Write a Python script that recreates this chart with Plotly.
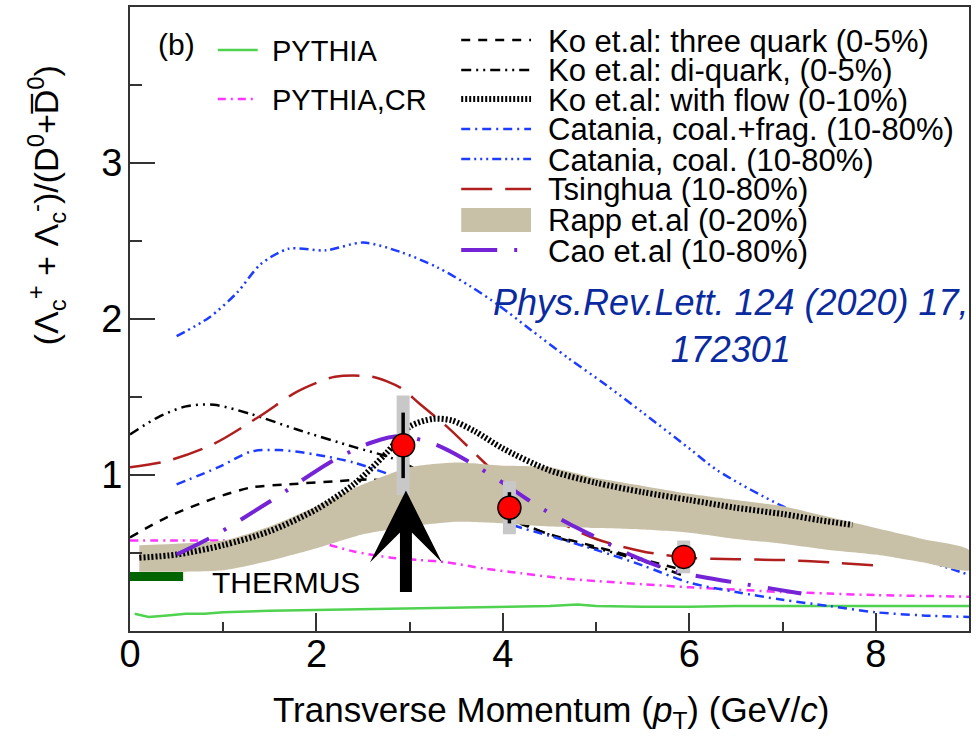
import plotly.graph_objects as go

# ---------------- data ----------------
pythia_x = [0.05, 0.2, 0.4, 0.6, 0.8, 1.0, 1.5, 2.0, 2.5, 3.0, 3.5, 4.0, 4.5, 4.8, 5.0, 5.5, 6.0, 6.5, 7.0, 7.5, 8.0, 8.5, 9.0]
pythia_y = [0.11, 0.09, 0.10, 0.11, 0.11, 0.12, 0.13, 0.135, 0.14, 0.145, 0.15, 0.155, 0.16, 0.17, 0.16, 0.155, 0.155, 0.16, 0.16, 0.16, 0.16, 0.16, 0.16]

pythia_cr_x = [0, 0.5, 1.0, 1.5, 2.0, 2.4, 2.8, 3.1, 3.4, 3.8, 4.2, 4.6, 5.0, 5.5, 6.0, 6.5, 7.0, 7.5, 8.0, 8.5, 9.0]
pythia_cr_y = [0.58, 0.58, 0.58, 0.58, 0.57, 0.51, 0.47, 0.455, 0.44, 0.40, 0.37, 0.34, 0.32, 0.30, 0.28, 0.265, 0.25, 0.24, 0.23, 0.225, 0.22]

ko3_x = [0, 0.4, 0.9, 1.3, 1.7, 2.2, 2.6, 3.0, 3.5, 4.0, 4.5, 5.0, 5.5, 6.0]
ko3_y = [0.60, 0.73, 0.85, 0.92, 0.94, 0.96, 0.97, 0.94, 0.85, 0.73, 0.62, 0.54, 0.46, 0.38]

kodi_x = [0, 0.3, 0.6, 0.9, 1.3, 1.8, 2.4, 2.8, 3.2, 3.6, 4.0, 4.4, 4.8, 5.2, 5.6, 5.95]
kodi_y = [1.26, 1.37, 1.44, 1.45, 1.39, 1.29, 1.18, 1.11, 1.00, 0.88, 0.76, 0.64, 0.56, 0.50, 0.43, 0.35]

koflow_x = [0.1, 0.5, 1.0, 1.5, 2.0, 2.4, 2.75, 3.0, 3.25, 3.45, 3.7, 4.0, 4.5, 5.0, 5.5, 6.0, 6.5, 7.0, 7.4, 7.75]
koflow_y = [0.47, 0.49, 0.55, 0.64, 0.78, 0.94, 1.14, 1.31, 1.36, 1.35, 1.28, 1.17, 1.03, 0.95, 0.89, 0.84, 0.79, 0.75, 0.71, 0.68]

catfrag_x = [0.5, 0.95, 1.3, 1.6, 2.0, 2.4, 2.8, 3.2, 3.6, 4.1, 4.5, 5.0, 5.5, 6.0, 6.5, 7.0, 7.5, 8.0, 8.5, 9.0]
catfrag_y = [0.94, 1.05, 1.15, 1.16, 1.13, 1.08, 1.00, 0.91, 0.80, 0.68, 0.61, 0.52, 0.42, 0.31, 0.25, 0.20, 0.16, 0.12, 0.10, 0.09]

catcoal_x = [0.5, 0.85, 1.15, 1.4, 1.7, 2.1, 2.5, 2.9, 3.3, 3.65, 3.95, 4.3, 4.7, 5.1, 5.5, 6.0, 6.3, 7.0, 7.5, 8.0, 8.5, 9.0]
catcoal_y = [1.89, 2.01, 2.17, 2.35, 2.45, 2.44, 2.49, 2.43, 2.33, 2.21, 2.09, 1.93, 1.75, 1.58, 1.40, 1.17, 1.03, 0.80, 0.68, 0.56, 0.46, 0.36]

tsing_x = [0.0, 0.4, 0.9, 1.4, 1.75, 2.0, 2.2, 2.6, 2.9, 3.1, 3.4, 3.8, 4.2, 4.6, 5.0, 5.5, 6.0, 6.5, 7.0, 7.5, 8.0]
tsing_y = [1.05, 1.09, 1.20, 1.38, 1.52, 1.59, 1.63, 1.63, 1.56, 1.46, 1.31, 1.08, 0.85, 0.70, 0.59, 0.51, 0.47, 0.46, 0.455, 0.44, 0.42]

rapp_x = [0.1, 0.5, 1.0, 1.5, 2.0, 2.5, 3.0, 3.5, 4.0, 4.5, 5.0, 5.5, 6.0, 6.5, 7.0, 7.5, 8.0, 8.5, 9.0]
rapp_hi = [0.55, 0.56, 0.58, 0.67, 0.80, 0.94, 1.05, 1.08, 1.06, 1.05, 0.98, 0.93, 0.88, 0.84, 0.80, 0.73, 0.66, 0.59, 0.52]
rapp_lo = [0.38, 0.38, 0.39, 0.45, 0.53, 0.62, 0.67, 0.70, 0.69, 0.67, 0.66, 0.65, 0.63, 0.59, 0.56, 0.52, 0.49, 0.44, 0.39]

cao_x = [0.5, 0.9, 1.5, 2.2, 2.6, 2.9, 3.3, 3.65, 4.0, 4.35, 4.7, 5.0, 5.4, 5.8, 6.2, 6.5, 6.9, 7.2]
cao_y = [0.49, 0.61, 0.83, 1.10, 1.21, 1.25, 1.19, 1.08, 0.95, 0.81, 0.69, 0.60, 0.48, 0.39, 0.34, 0.31, 0.27, 0.24]

thermus_x = [0.0, 0.57]
thermus_y = [0.35, 0.35]

data_x = [2.93, 4.07, 5.94]
data_y = [1.19, 0.79, 0.475]
data_stat = [0.21, 0.10, 0.07]
data_sys = [0.32, 0.17, 0.105]

arrow_x = 2.96
arrow_from = 0.24
arrow_to = 0.90

x_ticks = [0, 2, 4, 6, 8]
y_ticks = [1, 2, 3]

legend_left = ["PYTHIA", "PYTHIA,CR"]
legend_right = ["Ko et.al: three quark (0-5%)", "Ko et.al: di-quark, (0-5%)", "Ko et.al: with flow (0-10%)",
                "Catania, coal.+frag. (10-80%)", "Catania, coal. (10-80%)", "Tsinghua (10-80%)",
                "Rapp et.al (0-20%)", "Cao et.al (10-80%)"]

# ---------------- styles ----------------
FONT = "Liberation Sans, Arial, Helvetica, sans-serif"
W, H = 976, 739
L, R, T, B = 130, 5, 7, 108
PW, PH = W - L - R, H - T - B


def px(xp):
    return (xp - L) / PW


def py(yp):
    return (H - B - yp) / PH


st = {
    "pythia": dict(color="#4fd24f", width=2.5, dash="solid"),
    "cr": dict(color="#ff33ff", width=2.5, dash="8px,5px,2px,5px"),
    "ko3": dict(color="black", width=2.5, dash="9px,8px"),
    "kodi": dict(color="black", width=2.5, dash="10px,5px,2px,5px,2px,5px"),
    "flow": dict(color="black", width=6, dash="2px,2px"),
    "catfrag": dict(color="#1e3cff", width=2.5, dash="9px,5px,2px,5px"),
    "catcoal": dict(color="#1e3cff", width=2.5, dash="9px,4px,2px,4px,2px,4px,2px,4px"),
    "tsing": dict(color="#b01e1e", width=2.5, dash="31px,13px"),
    "cao": dict(color="#7424d6", width=4, dash="36px,17px,3px,17px"),
}
RAPP_COLOR = "#c9c1a7"

fig = go.Figure()


def line(x, y, key, shape="spline"):
    kw = {"smoothing": 0.8} if shape == "spline" else {}
    fig.add_trace(go.Scatter(x=x, y=y, mode="lines", line=dict(**st[key], shape=shape, **kw),
                             showlegend=False, hoverinfo="skip"))


line(pythia_x, pythia_y, "pythia", shape="linear")
line(pythia_cr_x, pythia_cr_y, "cr")
line(ko3_x, ko3_y, "ko3")
line(kodi_x, kodi_y, "kodi")
line(catfrag_x, catfrag_y, "catfrag")
line(catcoal_x, catcoal_y, "catcoal")
line(tsing_x, tsing_y, "tsing")

fig.add_trace(go.Scatter(x=rapp_x + rapp_x[::-1], y=rapp_hi + rapp_lo[::-1], mode="lines",
                         fill="toself", fillcolor=RAPP_COLOR,
                         line=dict(width=0, color=RAPP_COLOR, shape="spline", smoothing=0.6),
                         showlegend=False, hoverinfo="skip"))

line(koflow_x, koflow_y, "flow")
line(cao_x, cao_y, "cao")

fig.add_trace(go.Scatter(x=thermus_x, y=thermus_y, mode="lines", line=dict(color="#006400", width=9),
                         showlegend=False, hoverinfo="skip"))

# systematic boxes
fig.add_trace(go.Scatter(x=data_x, y=data_y, mode="markers", marker=dict(size=1, opacity=0),
                         error_y=dict(type="data", array=data_sys, color="#c8c8c8", thickness=13, width=0),
                         showlegend=False, hoverinfo="skip"))
# data points with stat errors
fig.add_trace(go.Scatter(x=data_x, y=data_y, mode="markers",
                         marker=dict(size=23, color="#ff0000", line=dict(color="black", width=1.5)),
                         error_y=dict(type="data", array=data_stat, color="black", thickness=3.5, width=0),
                         showlegend=False, hoverinfo="skip"))

annotations = []
shapes = []

# arrow
annotations.append(dict(x=arrow_x, y=arrow_to, ax=arrow_x, ay=arrow_from, xref="x", yref="y", axref="x", ayref="y",
                        text="", showarrow=True, arrowhead=3, arrowwidth=12, arrowsize=1.0, arrowcolor="black"))

# THERMUS label
annotations.append(dict(x=px(210), y=py(582), xref="paper", yref="paper", text="THERMUS", showarrow=False,
                        xanchor="left", yanchor="middle", font=dict(family=FONT, size=30, color="black")))

# reference label
annotations.append(dict(x=px(732), y=py(326), xref="paper", yref="paper",
                        text="<i>Phys.Rev.Lett. 124 (2020) 17,<br>172301</i>", showarrow=False, align="center",
                        xanchor="center", yanchor="middle", font=dict(family=FONT, size=36, color="#0a2aa0")))

# (b)
annotations.append(dict(x=px(177), y=py(44), xref="paper", yref="paper", text="(b)", showarrow=False,
                        xanchor="center", yanchor="middle", font=dict(family=FONT, size=30, color="black")))

# legend left
left_keys = ["pythia", "cr"]
left_rows = [50, 99]
for name, key, row in zip(legend_left, left_keys, left_rows):
    s = st[key]
    shapes.append(dict(type="line", xref="paper", yref="paper", x0=px(218), x1=px(258), y0=py(row), y1=py(row),
                       line=dict(color=s["color"], width=s["width"], dash=s["dash"])))
    annotations.append(dict(x=px(270), y=py(row + 1), xref="paper", yref="paper", text=name, showarrow=False,
                            xanchor="left", yanchor="middle", font=dict(family=FONT, size=29, color="black")))

# legend right
right_keys = ["ko3", "kodi", "flow", "catfrag", "catcoal", "tsing", "rapp", "cao"]
right_rows = [40, 70, 99, 129, 159, 189, 219, 250]
for name, key, row in zip(legend_right, right_keys, right_rows):
    if key == "rapp":
        shapes.append(dict(type="rect", xref="paper", yref="paper", x0=px(462), x1=px(532), y0=py(232), y1=py(208),
                           fillcolor=RAPP_COLOR, line=dict(width=0)))
    else:
        s = st[key]
        shapes.append(dict(type="line", xref="paper", yref="paper", x0=px(462), x1=px(532), y0=py(row), y1=py(row),
                           line=dict(color=s["color"], width=s["width"], dash=s["dash"])))
    annotations.append(dict(x=px(547), y=py(row + 1), xref="paper", yref="paper", text=name, showarrow=False,
                            xanchor="left", yanchor="middle", font=dict(family=FONT, size=31, color="black")))

# axis titles
annotations.append(dict(x=px(46), y=py(205), xref="paper", yref="paper", textangle=-90,
                        text="(Λ<sub>c</sub><sup>+</sup> + Λ<sub>c</sub><sup>-</sup>)/(D<sup>0</sup>+D\u0305<sup>0</sup>)",
                        showarrow=False, xanchor="center", yanchor="middle",
                        font=dict(family=FONT, size=34, color="black")))
annotations.append(dict(x=px(552), y=py(712), xref="paper", yref="paper",
                        text="Transverse Momentum (<i>p</i><sub>T</sub>) (GeV/<i>c</i>)",
                        showarrow=False, xanchor="center", yanchor="middle",
                        font=dict(family=FONT, size=35, color="black")))

fig.update_layout(
    width=W, height=H, margin=dict(l=L, r=R, t=T, b=B),
    paper_bgcolor="white", plot_bgcolor="white",
    annotations=annotations, shapes=shapes, showlegend=False,
    xaxis=dict(range=[0, 9], showgrid=False, zeroline=False, showline=True, mirror=True,
               linecolor="#333333", linewidth=2, ticks="inside", tickvals=x_ticks, ticktext=[str(v) for v in x_ticks],
               ticklen=18, tickwidth=1.5, tickcolor="#333333", ticklabelstandoff=-12,
               tickfont=dict(family=FONT, size=38, color="black"),
               minor=dict(dtick=1, tick0=0, ticks="inside", ticklen=9, tickwidth=1.5, tickcolor="#333333")),
    yaxis=dict(range=[0, 4], showgrid=False, zeroline=False, showline=True, mirror=True,
               linecolor="#333333", linewidth=2, ticks="inside", tickvals=y_ticks, ticktext=[str(v) for v in y_ticks],
               ticklen=25, tickwidth=1.5, tickcolor="#333333", ticklabelstandoff=-2,
               tickfont=dict(family=FONT, size=38, color="black"),
               minor=dict(tickvals=[0.5, 1.5, 2.5, 3.5], ticks="inside", ticklen=12, tickwidth=1.5, tickcolor="#333333")),
)

fig.write_html("out.html")
